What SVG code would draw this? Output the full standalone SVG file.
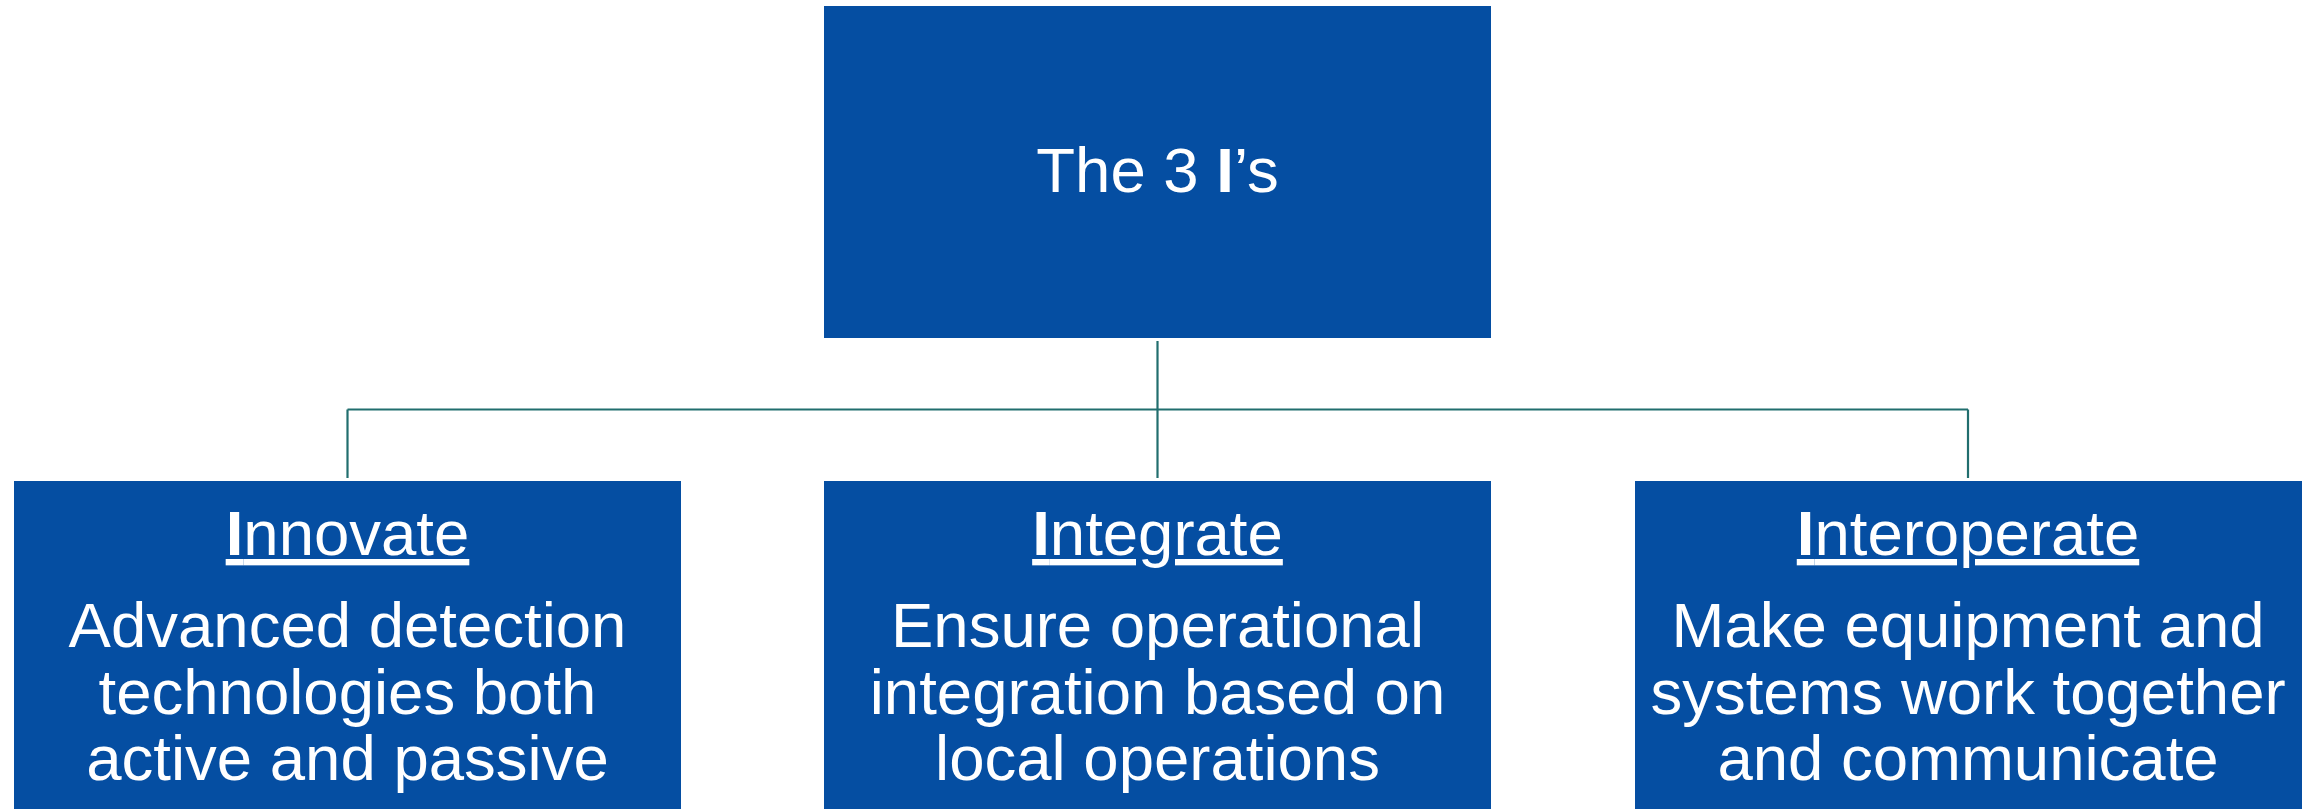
<svg xmlns="http://www.w3.org/2000/svg" width="2318" height="809" viewBox="0 0 2318 809">
<style>
.box{fill:#054EA2;}
.t{font-family:"Liberation Sans",Arial,sans-serif;font-size:63.5px;fill:#ffffff;text-anchor:middle;}
.b{font-weight:bold;}
.u{text-decoration:underline;}
.c{stroke:#216E6E;stroke-width:2.2;fill:none;}
</style>
<rect x="0" y="0" width="2318" height="809" fill="#ffffff"/>
<g id="connectors">
<path class="c" d="M1157.5 341 V409.5"/>
<path class="c" d="M347.5 409.5 H1968"/>
<path class="c" d="M347.5 409.5 V478"/>
<path class="c" d="M1157.5 409.5 V478"/>
<path class="c" d="M1968 409.5 V478"/>
</g>
<g id="root">
<rect class="box" x="824" y="6" width="667" height="332"/>
<text class="t" x="1157.5" y="192">The 3 <tspan class="b">I</tspan>’s</text>
</g>
<g id="innovate">
<rect class="box" x="14" y="481" width="667" height="330"/>
<text class="t u" x="347.5" y="555"><tspan class="b">I</tspan>nnovate</text>
<text class="t" x="347.5" y="647">Advanced detection</text>
<text class="t" x="347.5" y="713.5">technologies both</text>
<text class="t" x="347.5" y="780">active and passive</text>
</g>
<g id="integrate">
<rect class="box" x="824" y="481" width="667" height="330"/>
<text class="t u" x="1157.5" y="555"><tspan class="b">I</tspan>ntegrate</text>
<text class="t" x="1157.5" y="647">Ensure operational</text>
<text class="t" x="1157.5" y="713.5">integration based on</text>
<text class="t" x="1157.5" y="780">local operations</text>
</g>
<g id="interoperate">
<rect class="box" x="1635" y="481" width="667" height="330"/>
<text class="t u" x="1968" y="555"><tspan class="b">I</tspan>nteroperate</text>
<text class="t" x="1968" y="647">Make equipment and</text>
<text class="t" x="1968" y="713.5">systems work together</text>
<text class="t" x="1968" y="780">and communicate</text>
</g>
</svg>
